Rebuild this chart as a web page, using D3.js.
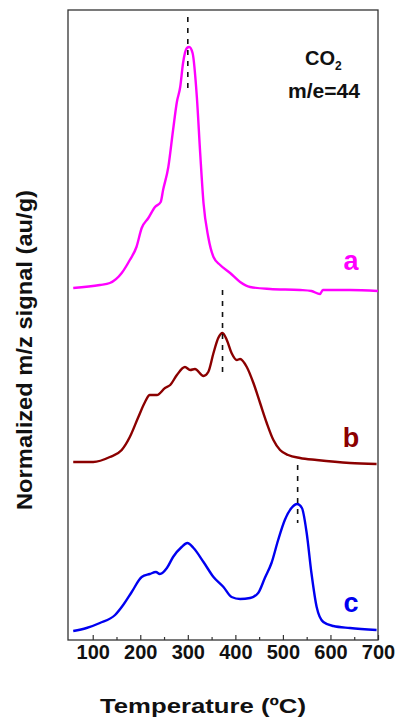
<!DOCTYPE html>
<html>
<head>
<meta charset="utf-8">
<script src="https://cdn.jsdelivr.net/npm/d3@7"></script>
<style>
  body { margin: 0; background: #fff; }
  svg { display: block; font-family: "Liberation Sans", Arial, sans-serif; }
</style>
</head>
<body>
<svg id="chart" width="397" height="721"></svg>
<script>
// temperatures (°C) and offset signals
const tempA = [59, 115, 136, 161, 178, 192, 203, 217, 231, 243, 248, 259, 269, 277, 284, 290, 298, 303, 310, 319, 326, 333, 343, 354, 368, 389, 410, 431, 473, 536, 560, 578, 584, 641, 700];
const signalA = [352, 355, 357, 367, 380, 393, 412, 422, 433, 438, 450, 473, 510, 538, 553, 577, 592, 593, 587, 543, 487, 437, 403, 383, 375, 367, 358, 353, 351, 350, 349, 346, 350, 350, 349];

const tempB = [59, 101, 136, 161, 178, 196, 210, 220, 235, 252, 263, 277, 294, 305, 315, 333, 343, 354, 364, 373, 382, 392, 403, 410, 424, 438, 452, 466, 480, 494, 511, 536, 571, 641, 697];
const signalB = [178, 178, 183, 190, 203, 223, 238, 245, 245, 252, 255, 265, 273, 270, 271, 264, 268, 287, 302, 307, 300, 287, 280, 281, 273, 257, 237, 217, 200, 190, 185, 182, 180, 177, 176];

const tempC = [59, 87, 115, 147, 164, 182, 203, 220, 233, 241, 256, 269, 287, 299, 312, 333, 354, 375, 392, 410, 431, 448, 462, 476, 490, 504, 518, 530, 540, 550, 560, 571, 585, 606, 641, 697];
const signalC = [9, 12, 17, 25, 35, 48, 63, 66, 68, 66, 72, 83, 93, 97, 92, 78, 63, 53, 43, 41, 42, 47, 62, 77, 100, 120, 132, 136, 132, 107, 67, 33, 18, 14, 12, 10];

const seriesNames = ['a', 'b', 'c'];
const seriesColors = ['#ff00ff', '#8b0000', '#0000f0'];

// peak markers: temperature and signal span of each dashed line
const peakTemps = [300, 373, 531];
const peakTop = [623, 350, 175];
const peakBottom = [552, 265, 117];

const xTicks = [100, 200, 300, 400, 500, 600, 700];
const xMinorTicks = [150, 250, 350, 450, 550, 650];

const margin = { top: 10, right: 19, bottom: 81, left: 68 };
const width = 397, height = 721;

const svg = d3.select('#chart');

const x = d3.scaleLinear()
  .domain([48, 700])
  .range([margin.left, width - margin.right]);

const y = d3.scaleLinear()
  .domain([0, 630])
  .range([height - margin.bottom, margin.top]);

// frame
svg.append('rect')
  .attr('x', margin.left)
  .attr('y', margin.top)
  .attr('width', width - margin.right - margin.left)
  .attr('height', height - margin.bottom - margin.top)
  .attr('fill', 'none')
  .attr('stroke', '#333')
  .attr('stroke-width', 1.3);

// bottom axis, ticks pointing inward
const axisY = height - margin.bottom;
const xAxis = svg.append('g')
  .attr('transform', 'translate(0,' + axisY + ')')
  .call(d3.axisBottom(x).tickValues(xTicks).tickSize(-5).tickSizeOuter(0).tickPadding(0));
xAxis.select('.domain').remove();
xAxis.selectAll('.tick line').attr('stroke', '#333').attr('stroke-width', 1.2);
xAxis.selectAll('.tick text')
  .attr('y', 19)
  .attr('dy', 0)
  .attr('fill', '#111')
  .style('font-size', '20px')
  .style('font-weight', 'bold');

svg.append('g')
  .attr('transform', 'translate(0,' + axisY + ')')
  .call(d3.axisBottom(x).tickValues(xMinorTicks).tickSize(-3).tickFormat(''))
  .call(g => g.select('.domain').remove())
  .selectAll('.tick line').attr('stroke', '#333').attr('stroke-width', 1.2);

// curves
const line = d3.line()
  .x(d => x(d[0]))
  .y(d => y(d[1]))
  .curve(d3.curveMonotoneX);

const allSeries = [
  d3.zip(tempA, signalA),
  d3.zip(tempB, signalB),
  d3.zip(tempC, signalC)
];

svg.selectAll('path.curve')
  .data(allSeries)
  .enter()
  .append('path')
  .attr('class', 'curve')
  .attr('d', line)
  .attr('fill', 'none')
  .attr('stroke', (d, i) => seriesColors[i])
  .attr('stroke-width', 2.4)
  .attr('stroke-linejoin', 'round');

// dashed peak lines
svg.selectAll('line.peak')
  .data(peakTemps)
  .enter()
  .append('line')
  .attr('class', 'peak')
  .attr('x1', d => x(d))
  .attr('x2', d => x(d))
  .attr('y1', (d, i) => y(peakTop[i]))
  .attr('y2', (d, i) => y(peakBottom[i]))
  .attr('stroke', '#111')
  .attr('stroke-width', 1.6)
  .attr('stroke-dasharray', '5,6');

// series letters
const letterY = [270, 447, 612];
svg.selectAll('text.letter')
  .data(seriesNames)
  .enter()
  .append('text')
  .attr('class', 'letter')
  .attr('x', 351)
  .attr('y', (d, i) => letterY[i])
  .attr('text-anchor', 'middle')
  .attr('fill', (d, i) => seriesColors[i])
  .style('font-size', '27px')
  .style('font-weight', 'bold')
  .text(d => d);

// gas label
const gas = svg.append('text')
  .attr('x', 305)
  .attr('y', 65)
  .attr('fill', '#111')
  .style('font-size', '20px')
  .style('font-weight', 'bold');
gas.append('tspan').text('CO');
gas.append('tspan').attr('dy', 5).style('font-size', '12px').text('2');

svg.append('text')
  .attr('x', 324)
  .attr('y', 98)
  .attr('text-anchor', 'middle')
  .attr('textLength', 72)
  .attr('lengthAdjust', 'spacingAndGlyphs')
  .attr('fill', '#111')
  .style('font-size', '20px')
  .style('font-weight', 'bold')
  .text('m/e=44');

// axis titles
svg.append('text')
  .attr('x', 100)
  .attr('y', 713)
  .attr('textLength', 206)
  .attr('lengthAdjust', 'spacingAndGlyphs')
  .attr('fill', '#111')
  .style('font-size', '21px')
  .style('font-weight', 'bold')
  .text('Temperature (ºC)');

svg.append('text')
  .attr('transform', 'translate(32,510) rotate(-90)')
  .attr('textLength', 320)
  .attr('lengthAdjust', 'spacingAndGlyphs')
  .attr('fill', '#111')
  .style('font-size', '22px')
  .style('font-weight', 'bold')
  .text('Normalized m/z signal (au/g)');
</script>
</body>
</html>
